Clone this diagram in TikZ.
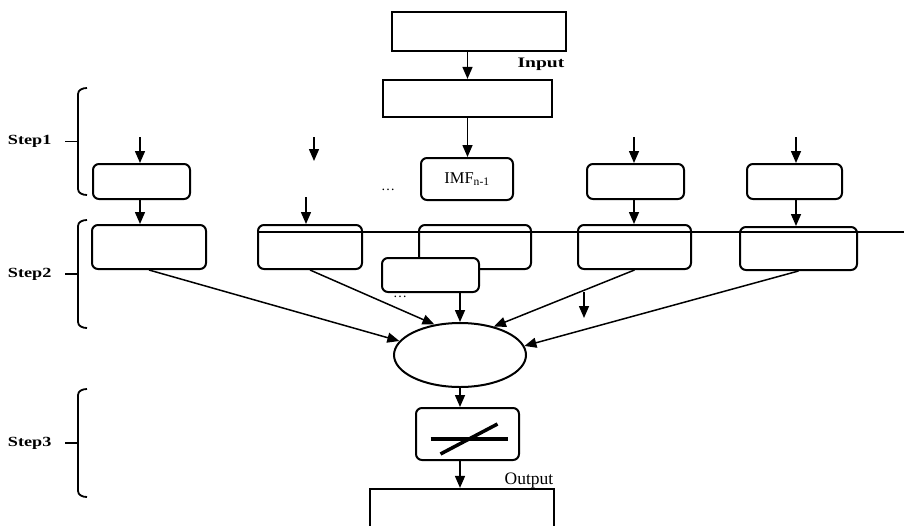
\documentclass[tikz,border=0pt]{standalone}
\usepackage{fontspec}
\setmainfont{Liberation Serif}
\usetikzlibrary{arrows.meta,shapes.geometric}
\newcommand{\wide}[2]{\scalebox{#1}[1]{#2}}
\newcommand{\stepbrace}[4]{%
  \draw[brace] (87,#2) to[out=180,in=90] (78,{#2+6}) -- (78,{#3-6})
               to[out=-90,in=180] (87,#3);
  \draw[brace] (65,{(#2+#3)/2}) -- (78,{(#2+#3)/2});
  \node[steplabel] (#1) at (55,{(#2+#3)/2}) {\wide{1.3}{#4}};}
\tikzset{
  sqbox/.style={draw,line width=2.2pt,inner sep=0pt},
  rbox/.style={draw,line width=2pt,rounded corners=6pt,inner sep=0pt},
  arr/.style={-{Triangle[length=12pt,width=10pt]},line width=1.5pt},
  brace/.style={line width=1.8pt},
  steplabel/.style={anchor=east,font=\bfseries\fontsize{14}{16}\selectfont}}

\begin{document}
\begin{tikzpicture}[x=1pt,y=-1pt]
\useasboundingbox (0,0) rectangle (904,525);

% input signal and decomposition
\node[sqbox,minimum width=174pt,minimum height=39pt] (src) at (479,31.5) {};
\node[sqbox,minimum width=169pt,minimum height=37pt] (emd) at (467.5,98.5) {};
\node[font=\bfseries\fontsize{14.5}{16}\selectfont] (inlab) at (541,64) {\wide{1.35}{Input}};

% step 1
\node[rbox,minimum width=97pt,minimum height=35pt] (s1a) at (141.5,181.5) {};
\node[rbox,minimum width=92pt,minimum height=42pt,font=\fontsize{16.5}{18}\selectfont]
     (imf) at (467,179) {IMF\textsubscript{n-1}};
\node[rbox,minimum width=97pt,minimum height=35pt] (s1d) at (635.5,181.5) {};
\node[rbox,minimum width=95pt,minimum height=35pt] (s1e) at (794.5,181.5) {};
\node[font=\fontsize{14}{15}\selectfont] (dots1) at (388,190) {\dots};

% step 2
\node[rbox,minimum width=114pt,minimum height=44pt] (ra) at (149,247) {};
\node[rbox,minimum width=104pt,minimum height=44pt] (rb) at (310,247) {};
\node[rbox,minimum width=112pt,minimum height=44pt] (rc) at (475,247) {};
\node[rbox,fill=white,minimum width=97pt,minimum height=34pt] (rd) at (430.5,275) {};
\node[rbox,minimum width=113pt,minimum height=44pt] (re) at (634.5,247) {};
\node[rbox,minimum width=117pt,minimum height=43pt] (rf) at (798.5,248.5) {};
\node[font=\fontsize{14}{15}\selectfont] (dots2) at (400,297) {\dots};
\node[draw,ellipse,line width=2pt,minimum width=132pt,minimum height=64pt,
      inner sep=0pt] (sum) at (460,355) {};

% step 3
\node[rbox,minimum width=103pt,minimum height=52pt] (sw) at (467.5,434) {};
\draw[line width=3.5pt] ([shift={(-37,5)}]sw.center) -- ([shift={(40,5)}]sw.center);
\draw[line width=3.5pt] ([shift={(-27,20)}]sw.center) -- ([shift={(30,-10)}]sw.center);
\node[sqbox,minimum width=184pt,minimum height=60pt] (out) at (462,519) {};
\node[font=\fontsize{17.5}{19}\selectfont] (outlab) at (529,481) {Output};

\stepbrace{st1}{88}{195}{Step1}
\stepbrace{st2}{220}{328}{Step2}
\stepbrace{st3}{389}{497}{Step3}

% connectors
\coordinate (ina) at (140,137);
\coordinate (inb) at (314,137);
\coordinate (inbe) at (314,161);
\coordinate (ind) at (634,137);
\coordinate (ine) at (796,137);
\coordinate (mb) at (306,197);
\coordinate (cut) at (904,232);
\coordinate (fr) at (584,292);
\coordinate (fre) at (584,318);

\draw[arr] (emd.north |- src.south) -- (emd.north);
\draw[arr] (emd.south) -- (emd.south |- imf.north);
\draw[arr] (ina) -- (ina |- s1a.north);
\draw[arr] (inb) -- (inbe);
\draw[arr] (ind) -- (ind |- s1d.north);
\draw[arr] (ine) -- (ine |- s1e.north);
\draw[arr] (s1a.south -| ina) -- (ina |- ra.north);
\draw[arr] (mb) -- (mb |- rb.north);
\draw[arr] (s1d.south -| ind) -- (ind |- re.north);
\draw[arr] (s1e.south -| ine) -- (ine |- rf.north);
\draw[line width=1.5pt] (rb.west |- cut) -- (cut);

\draw[arr] (ra.south) -- (sum.167);
\draw[arr] (rb.south) -- (sum.130);
\draw[arr] (sum.north |- rd.south) -- (sum.north);
\draw[arr] (re.south) -- (sum.40);
\draw[arr] (rf.south) -- (sum.8);
\draw[arr] (fr) -- (fre);
\draw[arr] (sum.south) -- (sum.south |- sw.north);
\draw[arr] (sum.south |- sw.south) -- (sum.south |- out.north);
\end{tikzpicture}
\end{document}
